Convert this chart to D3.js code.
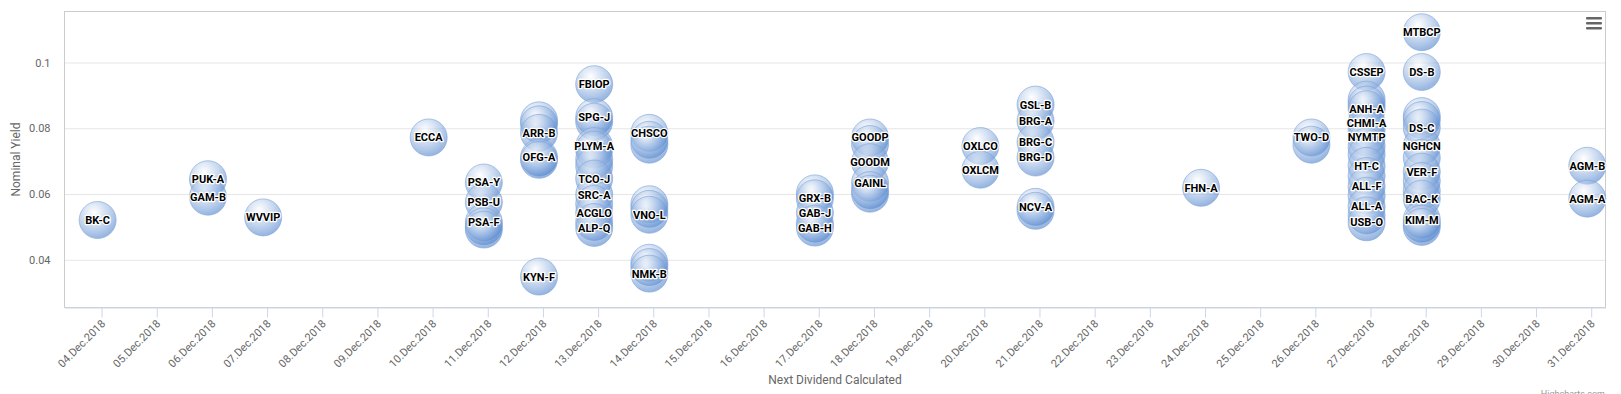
<!DOCTYPE html>
<html>
<head>
<meta charset="utf-8">
<script src="https://cdnjs.cloudflare.com/ajax/libs/d3/7.8.5/d3.min.js"></script>
<style>
  body { margin: 0; background: #fff; }
  svg { font-family: Roboto, "Noto Sans", sans-serif; display: block; }
</style>
</head>
<body>
<script>
// dividend date of each bubble
const dates = [
  "2018-12-04",
  "2018-12-06", "2018-12-06",
  "2018-12-07",
  "2018-12-10",
  "2018-12-11", "2018-12-11", "2018-12-11", "2018-12-11", "2018-12-11",
  "2018-12-12", "2018-12-12", "2018-12-12", "2018-12-12", "2018-12-12", "2018-12-12",
  "2018-12-13", "2018-12-13", "2018-12-13", "2018-12-13", "2018-12-13", "2018-12-13", "2018-12-13",
  "2018-12-13", "2018-12-13", "2018-12-13", "2018-12-13", "2018-12-13", "2018-12-13",
  "2018-12-14", "2018-12-14", "2018-12-14", "2018-12-14", "2018-12-14", "2018-12-14", "2018-12-14", "2018-12-14", "2018-12-14",
  "2018-12-17", "2018-12-17", "2018-12-17", "2018-12-17", "2018-12-17",
  "2018-12-18", "2018-12-18", "2018-12-18", "2018-12-18", "2018-12-18", "2018-12-18",
  "2018-12-20", "2018-12-20",
  "2018-12-21", "2018-12-21", "2018-12-21", "2018-12-21", "2018-12-21", "2018-12-21",
  "2018-12-24",
  "2018-12-26", "2018-12-26",
  "2018-12-27", "2018-12-27", "2018-12-27", "2018-12-27", "2018-12-27", "2018-12-27", "2018-12-27", "2018-12-27",
  "2018-12-27", "2018-12-27", "2018-12-27", "2018-12-27", "2018-12-27", "2018-12-27", "2018-12-27", "2018-12-27",
  "2018-12-28", "2018-12-28", "2018-12-28", "2018-12-28", "2018-12-28", "2018-12-28", "2018-12-28",
  "2018-12-28", "2018-12-28", "2018-12-28", "2018-12-28", "2018-12-28", "2018-12-28", "2018-12-28",
  "2018-12-31", "2018-12-31"
];

// ticker label ("" = label hidden by overlap in the original)
const tickers = [
  "BK-C",
  "PUK-A", "GAM-B",
  "WVVIP",
  "ECCA",
  "PSA-Y", "PSB-U", "PSA-F", "", "",
  "", "", "ARR-B", "OFG-A", "", "KYN-F",
  "FBIOP", "SPG-J", "", "PLYM-A", "", "", "",
  "TCO-J", "SRC-A", "", "ACGLO", "", "ALP-Q",
  "CHSCO", "", "", "", "", "VNO-L", "", "", "NMK-B",
  "", "GRX-B", "GAB-J", "", "GAB-H",
  "GOODP", "", "GOODM", "GAINL", "", "",
  "OXLCO", "OXLCM",
  "GSL-B", "BRG-A", "BRG-C", "BRG-D", "NCV-A", "",
  "FHN-A",
  "TWO-D", "",
  "CSSEP", "", "", "ANH-A", "CHMI-A", "", "NYMTP", "",
  "", "HT-C", "", "ALL-F", "", "ALL-A", "", "USB-O",
  "MTBCP", "DS-B", "", "", "DS-C", "NGHCN", "",
  "VER-F", "", "", "BAC-K", "KIM-M", "", "",
  "AGM-B", "AGM-A"
];

// nominal yield
const yields = [
  0.0521,
  0.0645, 0.0592,
  0.0529,
  0.0772,
  0.0635, 0.0575, 0.0514, 0.0502, 0.0492,
  0.0824, 0.0812, 0.0786, 0.0711, 0.0704, 0.0349,
  0.0934, 0.0834, 0.0820, 0.0746, 0.0735, 0.0705, 0.0685,
  0.0647, 0.0598, 0.0570, 0.0543, 0.0515, 0.0497,
  0.0786, 0.0765, 0.0750, 0.0569, 0.0555, 0.0537, 0.0391, 0.0378, 0.0358,
  0.0602, 0.0587, 0.0543, 0.0510, 0.0498,
  0.0772, 0.0752, 0.0697, 0.0634, 0.0612, 0.0601,
  0.0746, 0.0674,
  0.0872, 0.0822, 0.0758, 0.0711, 0.0561, 0.0549,
  0.0619,
  0.0772, 0.0750,
  0.0971, 0.0887, 0.0872, 0.0858, 0.0816, 0.0795, 0.0772, 0.0745,
  0.0720, 0.0686, 0.0655, 0.0623, 0.0595, 0.0562, 0.0535, 0.0514,
  0.1092, 0.0971, 0.0837, 0.0825, 0.0802, 0.0746, 0.0710,
  0.0668, 0.0640, 0.0610, 0.0586, 0.0522, 0.0510, 0.0500,
  0.0686, 0.0586
];

const yTicks = [0.04, 0.06, 0.08, 0.1];
const xTickDays = d3.utcDays(new Date(Date.UTC(2018, 11, 4)), new Date(Date.UTC(2018, 11, 32)));

const W = 1621, H = 394;
const plot = { left: 64.5, right: 1605.5, top: 11.5, bottom: 307.5 };
const bubbleR = 18.5;
const tickShiftHours = 1.7; // axis ticks sit a bit after the points (timezone)

const parse = d3.utcParse("%Y-%m-%d");
const points = dates.map((d, i) => ({ date: parse(d), name: tickers[i], y: yields[i] }));

const svg = d3.select("body").append("svg")
  .attr("width", W)
  .attr("height", H);

// scales
const x = d3.scaleUtc()
  .domain([new Date(Date.UTC(2018, 11, 3, 9, 35)), new Date(Date.UTC(2018, 11, 31, 7, 55))])
  .range([plot.left, plot.right]);

const y = d3.scaleLinear()
  .domain([0.0255, 0.1155])
  .range([plot.bottom, plot.top]);

// gradient for the bubbles
const defs = svg.append("defs");
const grad = defs.append("radialGradient")
  .attr("id", "bubbleFill")
  .attr("cx", 0.4).attr("cy", 0.3).attr("r", 0.7);
grad.append("stop").attr("offset", 0).attr("stop-color", "#fff").attr("stop-opacity", 0.5);
grad.append("stop").attr("offset", 1).attr("stop-color", "#3f78c8").attr("stop-opacity", 0.55);

defs.append("clipPath").attr("id", "plotClip")
  .append("rect")
  .attr("x", plot.left).attr("y", plot.top - 5)
  .attr("width", plot.right - plot.left + 20)
  .attr("height", plot.bottom - plot.top + 5);

// y grid + labels
const yAxis = d3.axisLeft(y)
  .tickValues(yTicks)
  .tickSize(-(plot.right - plot.left))
  .tickPadding(14)
  .tickFormat(d3.format("~g"));

const gy = svg.append("g")
  .attr("transform", `translate(${plot.left},0)`)
  .call(yAxis);
gy.select(".domain").remove();
gy.selectAll(".tick line").attr("stroke", "#e6e6e6");
gy.selectAll(".tick text")
  .attr("fill", "#666")
  .style("font-size", "11px")
  .style("font-family", "Roboto, sans-serif");

// plot border
svg.append("rect")
  .attr("x", plot.left).attr("y", plot.top)
  .attr("width", plot.right - plot.left)
  .attr("height", plot.bottom - plot.top)
  .attr("fill", "none")
  .attr("stroke", "#cccccc")
  .attr("stroke-width", 1);

// x axis
const xAxis = d3.axisBottom(x)
  .tickValues(xTickDays.map(d => new Date(d.getTime() + tickShiftHours * 3600e3)))
  .tickSize(10)
  .tickSizeOuter(0)
  .tickFormat(d => d3.utcFormat("%d.%b.%Y")(d3.utcDay.floor(d)));

const gx = svg.append("g")
  .attr("transform", `translate(0,${plot.bottom})`)
  .call(xAxis);
gx.select(".domain").attr("stroke", "#ccd6eb");
gx.selectAll(".tick line").attr("stroke", "#ccd6eb");
gx.selectAll(".tick text")
  .attr("fill", "#666")
  .style("font-size", "11px")
  .style("font-family", "Roboto, sans-serif")
  .attr("text-anchor", "end")
  .attr("y", 0).attr("dy", 0)
  .attr("transform", "translate(4,17) rotate(-45)");

// axis titles
svg.append("text")
  .attr("x", (plot.left + plot.right) / 2)
  .attr("y", 384)
  .attr("text-anchor", "middle")
  .attr("fill", "#666")
  .style("font-size", "12px")
  .text("Next Dividend Calculated");

svg.append("text")
  .attr("transform", `translate(20,${(plot.top + plot.bottom) / 2}) rotate(-90)`)
  .attr("text-anchor", "middle")
  .attr("fill", "#666")
  .style("font-size", "12px")
  .text("Nominal Yield");

// bubbles
const bubbles = svg.append("g").attr("clip-path", "url(#plotClip)");
bubbles.selectAll("circle")
  .data(points)
  .enter()
  .append("circle")
  .attr("cx", d => x(d.date))
  .attr("cy", d => y(d.y))
  .attr("r", bubbleR)
  .attr("fill", "url(#bubbleFill)")
  .attr("stroke", "#7fa3d8")
  .attr("stroke-opacity", 0.6)
  .attr("stroke-width", 1);

// data labels
svg.append("g").selectAll("text")
  .data(points.filter(d => d.name !== ""))
  .enter()
  .append("text")
  .attr("x", d => x(d.date))
  .attr("y", d => y(d.y))
  .attr("dy", "0.36em")
  .attr("text-anchor", "middle")
  .style("font-size", "11px")
  .style("font-weight", "bold")
  .attr("fill", "#000")
  .attr("stroke", "#fff")
  .attr("stroke-width", 2.4)
  .attr("stroke-linejoin", "round")
  .attr("paint-order", "stroke")
  .text(d => d.name);

// export menu icon
const menu = svg.append("g").attr("transform", "translate(1586,17)");
[0, 5, 10].forEach(off => {
  menu.append("rect")
    .attr("x", 0).attr("y", off)
    .attr("width", 16).attr("height", 2.6)
    .attr("rx", 1)
    .attr("fill", "#666");
});

// credits (partly below the visible area, as in the original)
svg.append("text")
  .attr("x", 1605)
  .attr("y", 397)
  .attr("text-anchor", "end")
  .attr("fill", "#999")
  .style("font-size", "9px")
  .text("Highcharts.com");
</script>
</body>
</html>
